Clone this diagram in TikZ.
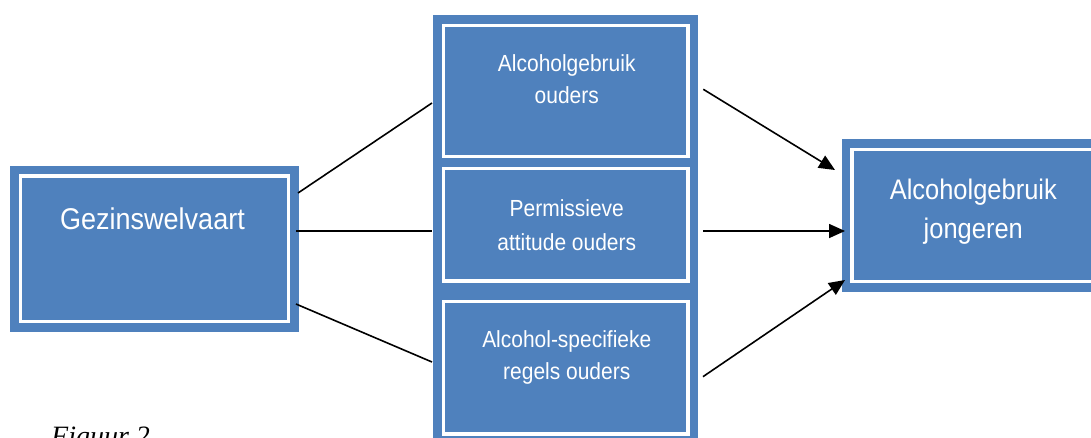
\documentclass[tikz,border=0pt]{standalone}
\usepackage{fontspec}
\setmainfont{Liberation Sans}[FakeStretch=0.9]
\newfontfamily\figfont{Liberation Serif}
\usetikzlibrary{arrows.meta}
\definecolor{blockblue}{RGB}{79,129,189}
\tikzset{
    blockbox/.style={rectangle, fill=blockblue, draw=blockblue, line width=8.5pt, double=white, double distance=3.5pt, outer sep=0pt, inner sep=0pt},
    blocktext/.style={text=white, align=center, inner sep=0pt, anchor=base},
    link/.style={line width=1.6pt},
    linkarrow/.style={line width=1.6pt, -{Triangle[length=16pt, width=14pt]}}
}
\begin{document}
\begin{tikzpicture}[x=1pt, y=-1pt]
                \useasboundingbox (0,0) rectangle (1091,437);
                \clip (0,0) rectangle (1091,437);
                \node [blockbox, minimum width=268pt, minimum height=145.5pt] (gw) at (154.5,248.9) {};
                \node [blockbox, minimum width=244.1pt, minimum height=131.4pt] (ao) at (565.75,91) {};
                \node [blockbox, minimum width=244.1pt, minimum height=112.5pt, below of=ao, node distance=133.55pt] (pa) {};
                \node [blockbox, minimum width=244.1pt, minimum height=132.7pt, below of=pa, node distance=143.1pt] (ar) {};
                \node [blockbox, minimum width=242.6pt, minimum height=131.6pt] (aj) at (973.3,215.5) {};
                \node [blocktext, font=\fontsize{30}{32}\selectfont] (gwt) at ([shift={(-2,-19.6)}]gw.center) {Gezinswelvaart};
                \node [blocktext, font=\fontsize{23.3}{31.6}\selectfont] (aot) at ([shift={(1,12.3)}]ao.center) {Alcoholgebruik\\ouders};
                \node [blocktext, font=\fontsize{23.3}{34}\selectfont] (pat) at ([shift={(1,26.15)}]pa.center) {Permissieve\\attitude ouders};
                \node [blocktext, font=\fontsize{23.3}{31.6}\selectfont] (art) at ([shift={(1,11.65)}]ar.center) {Alcohol-specifieke\\regels ouders};
                \node [blocktext, font=\fontsize{28.3}{39.3}\selectfont] (ajt) at ([shift={(0,22.8)}]aj.center) {Alcoholgebruik\\jongeren};
                \node [font=\figfont\itshape\fontsize{28}{34}\selectfont, anchor=base west, inner sep=0pt] (fig) at (51,445.5) {Figuur 2};
                \draw [link] ([shift={(9.5,-55.9)}]gw.east) -- ([shift={(-11.7,12)}]ao.west);
                \draw [link] ([shift={(7.5,-18.2)}]gw.east) -- ([shift={(-11.7,6.15)}]pa.west);
                \draw [link] ([shift={(7.5,55.1)}]gw.east) -- ([shift={(-11.7,-5.65)}]ar.west);
                \draw [linkarrow] ([shift={(15.5,-1.7)}]ao.east) -- ([shift={(-17,-45.5)}]aj.west);
                \draw [linkarrow] ([shift={(15.2,6.45)}]pa.east) -- ([shift={(-7,15.5)}]aj.west);
                \draw [linkarrow] ([shift={(15.2,9)}]ar.east) -- ([shift={(-7,64.5)}]aj.west);
\end{tikzpicture}
\end{document}
